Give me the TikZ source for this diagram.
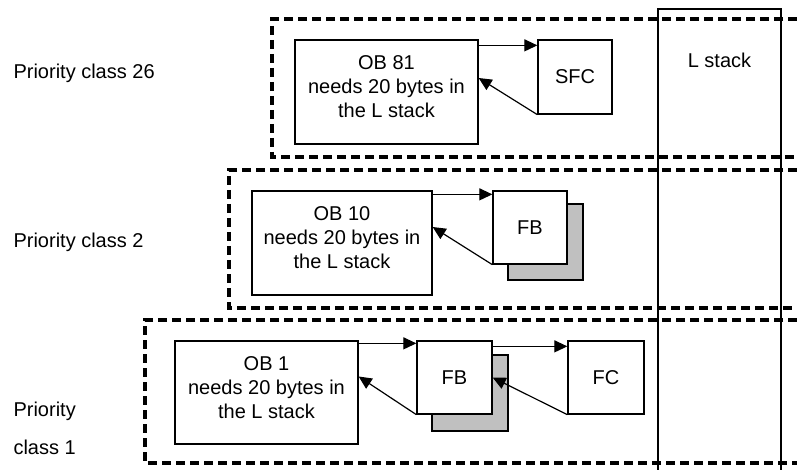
\documentclass[tikz,border=0pt]{standalone}
\usepackage{fontspec}
\setmainfont{Liberation Sans}
\usepackage{tikz}
\usetikzlibrary{arrows.meta,calc,positioning}
\definecolor{shd}{RGB}{192,192,192}

\begin{document}
\begin{tikzpicture}[x=1pt,y=-1pt,
  blk/.style={draw,fill=white,line width=1.3pt,inner sep=0pt,align=center,font=\fontsize{20}{24}\selectfont},
  shadowbox/.style={draw,fill=shd,line width=1.3pt,inner sep=0pt},
  frame/.style={line width=3.2pt,dash pattern=on 9pt off 5pt},
  call/.style={line width=1.2pt,-{Triangle[length=13pt,width=12pt]}},
  lbl/.style={font=\fontsize{20}{24}\selectfont}]
  \useasboundingbox (0,0) rectangle (797,470);
  % L stack column
  \draw[line width=1.4pt] (658,470) -- (658,9) -- (781,9) -- (781,470);
  \node[lbl] (lst) at (719.5,60) {L stack};
  % priority frames
  \draw[frame] (797,19) -- (272,19) -- (272,157) -- (797,157);
  \draw[frame] (797,170) -- (229,170) -- (229,308) -- (797,308);
  \draw[frame] (797,320) -- (145,320) -- (145,463) -- (797,463);
  \node[lbl,anchor=west] (p26) at (10,73) {Priority class 26};
  \node[lbl,anchor=west] (p2) at (10,242) {Priority class 2};
  \node[lbl,anchor=west,align=left] (p1) at (10,428) {Priority\\[14pt]class 1};
  % class 26
  \node[blk,minimum width=183pt,minimum height=104pt] (ob81) at (386.5,92) {OB 81\\needs 20 bytes in\\the L stack\\[-14pt]\mbox{}};
  \node[blk,minimum width=74pt,minimum height=74pt] (sfc) at (575,77) {SFC};
  \draw[call] ([yshift=-6pt]ob81.north east) -- ([yshift=-6pt]sfc.north west);
  \draw[call] (sfc.south west) -- ([yshift=14pt]ob81.east);
  % class 2
  \node[shadowbox,minimum width=75pt,minimum height=76pt] (fb2s) at (545.5,242) {};
  \node[blk,minimum width=180pt,minimum height=104pt] (ob10) at (342,243) {OB 10\\needs 20 bytes in\\the L stack\\[-14pt]\mbox{}};
  \node[blk,minimum width=74pt,minimum height=73pt] (fb2) at (530,227.5) {FB};
  \draw[call] ([yshift=-4pt]ob10.north east) -- ([yshift=-4pt]fb2.north west);
  \draw[call] (fb2.south west) -- ([yshift=16pt]ob10.east);
  % class 1
  \node[shadowbox,minimum width=76pt,minimum height=76pt] (fb1s) at (470,393) {};
  \node[blk,minimum width=183pt,minimum height=103pt] (ob1) at (266.5,392.5) {OB 1\\needs 20 bytes in\\the L stack\\[-14pt]\mbox{}};
  \node[blk,minimum width=75pt,minimum height=73pt] (fb1) at (454.5,377.5) {FB};
  \node[blk,minimum width=76pt,minimum height=73pt] (fc) at (606,377.5) {FC};
  \draw[call] ([yshift=-3pt]ob1.north east) -- ([yshift=-3pt]fb1.north west);
  \draw[call] ([yshift=-6pt]fb1.north east) -- ([yshift=-6pt]fc.north west);
  \draw[call] (fc.south west) -- ([yshift=0pt]fb1.east);
  \draw[call] (fb1.south west) -- ([yshift=16pt]ob1.east);
\end{tikzpicture}
\end{document}
